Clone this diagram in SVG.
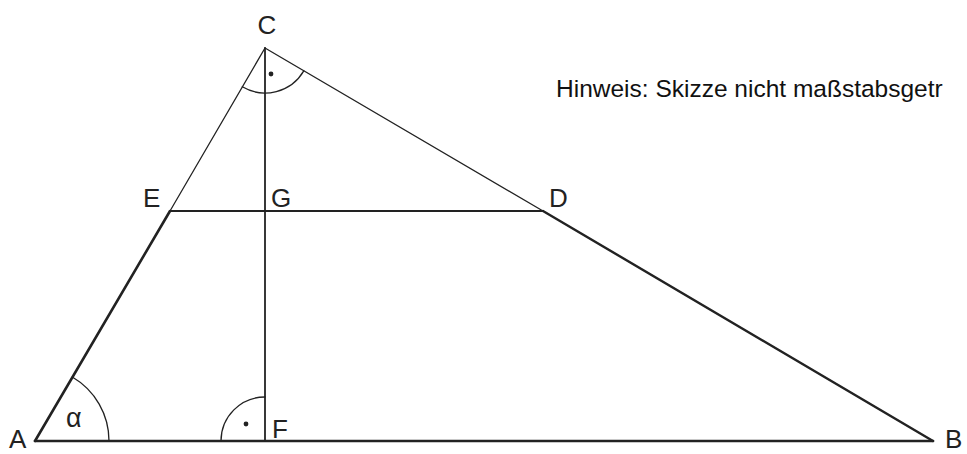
<svg xmlns="http://www.w3.org/2000/svg" width="967" height="454" viewBox="0 0 967 454">
<style>
.l{stroke:#222;fill:none;stroke-linecap:round}
.t{font-family:"Liberation Sans",Arial,sans-serif;font-size:26px;fill:#222}
</style>
<rect width="967" height="454" fill="#fff"/>
<g id="connectors">
<line class="l" x1="35" y1="441" x2="933" y2="441" stroke-width="2.6"/>
<line class="l" x1="35" y1="441" x2="170" y2="211" stroke-width="2.6"/>
<line class="l" x1="170" y1="211" x2="265" y2="48" stroke-width="1.3"/>
<line class="l" x1="265" y1="48" x2="543" y2="211" stroke-width="1.3"/>
<line class="l" x1="543" y1="211" x2="933" y2="441" stroke-width="2.4"/>
<line class="l" x1="170" y1="211" x2="543" y2="211" stroke-width="2"/>
<line class="l" x1="265" y1="48" x2="265" y2="441" stroke-width="1.8"/>
<path class="l" d="M109,441 A74,74 0 0 0 72.3,377" stroke-width="1.3"/>
<path class="l" d="M221,441 A44,44 0 0 1 265,397" stroke-width="1.3"/>
<path class="l" d="M242.3,86.8 A45,45 0 0 0 303.8,70.8" stroke-width="1.3"/>
<circle cx="246" cy="424" r="2.4" fill="#222"/>
<circle cx="271" cy="74" r="2.4" fill="#222"/>
</g>
<g id="A"><text class="t" x="9" y="448">A</text></g>
<g id="B"><text class="t" x="945" y="448">B</text></g>
<g id="C"><text class="t" x="267" y="34" text-anchor="middle">C</text></g>
<g id="D"><text class="t" x="549" y="207">D</text></g>
<g id="E"><text class="t" x="143" y="207">E</text></g>
<g id="G"><text class="t" x="271" y="207" fill="#555">G</text></g>
<g id="F"><text class="t" x="272" y="438">F</text></g>
<g id="alpha"><text class="t" x="66" y="427" style="font-size:27px">α</text></g>
<g id="note"><text class="t" x="556" y="97" style="font-size:24.5px;fill:#111">Hinweis: Skizze nicht maßstabsgetr</text></g>
</svg>
